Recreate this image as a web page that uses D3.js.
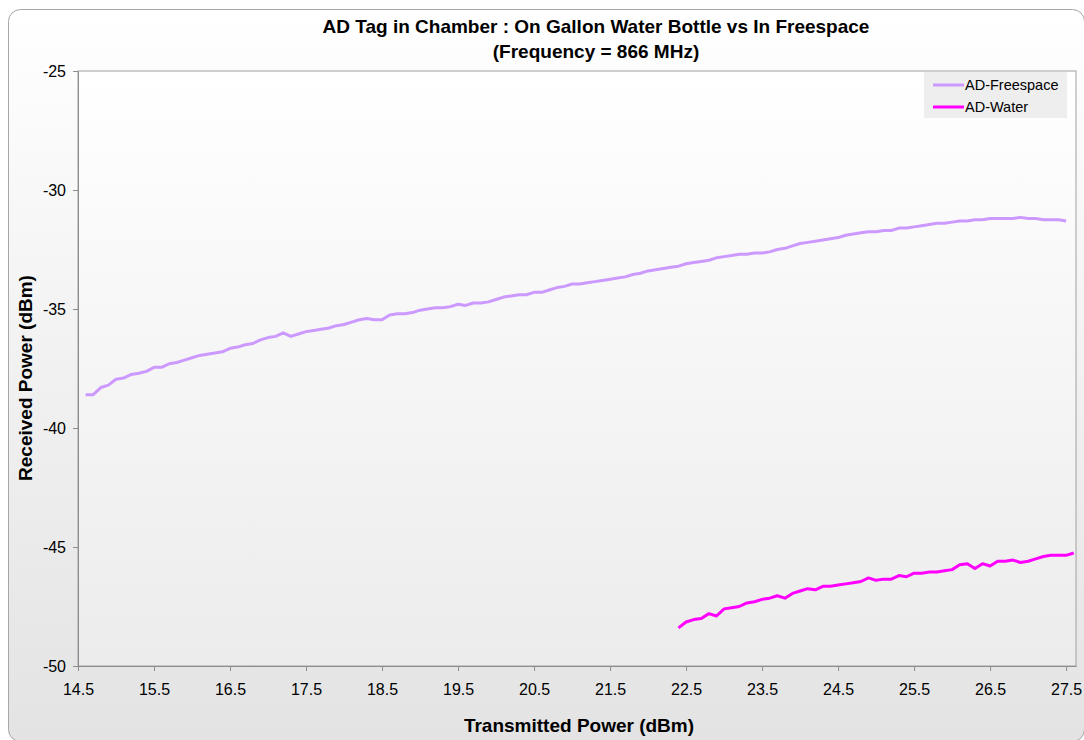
<!DOCTYPE html>
<html>
<head>
<meta charset="utf-8">
<script src="https://cdn.jsdelivr.net/npm/d3@7"></script>
<style>
  body { margin: 0; background: #fff; }
  svg { font-family: "Liberation Sans", Arial, sans-serif; }
</style>
</head>
<body>
<div id="chart"></div>
<script>
// Transmitted power (dBm) and received power (dBm) for each tag setup
const txFreespace = [14.6, 14.7, 14.8, 14.9, 15.0, 15.1, 15.2, 15.3, 15.4, 15.5,
    15.6, 15.7, 15.8, 15.9, 16.0, 16.1, 16.2, 16.3, 16.4, 16.5,
    16.6, 16.7, 16.8, 16.9, 17.0, 17.1, 17.2, 17.3, 17.4, 17.5,
    17.6, 17.7, 17.8, 17.9, 18.0, 18.1, 18.2, 18.3, 18.4, 18.5,
    18.6, 18.7, 18.8, 18.9, 19.0, 19.1, 19.2, 19.3, 19.4, 19.5,
    19.6, 19.7, 19.8, 19.9, 20.0, 20.1, 20.2, 20.3, 20.4, 20.5,
    20.6, 20.7, 20.8, 20.9, 21.0, 21.1, 21.2, 21.3, 21.4, 21.5,
    21.6, 21.7, 21.8, 21.9, 22.0, 22.1, 22.2, 22.3, 22.4, 22.5,
    22.6, 22.7, 22.8, 22.9, 23.0, 23.1, 23.2, 23.3, 23.4, 23.5,
    23.6, 23.7, 23.8, 23.9, 24.0, 24.1, 24.2, 24.3, 24.4, 24.5,
    24.6, 24.7, 24.8, 24.9, 25.0, 25.1, 25.2, 25.3, 25.4, 25.5,
    25.6, 25.7, 25.8, 25.9, 26.0, 26.1, 26.2, 26.3, 26.4, 26.5,
    26.6, 26.7, 26.8, 26.9, 27.0, 27.1, 27.2, 27.3, 27.4, 27.5];
const rxFreespace = [-38.6, -38.6, -38.3, -38.2, -37.95, -37.9, -37.75, -37.7, -37.62, -37.45,
    -37.45, -37.3, -37.25, -37.15, -37.05, -36.95, -36.9, -36.85, -36.8, -36.65,
    -36.6, -36.5, -36.45, -36.3, -36.2, -36.15, -36.0, -36.15, -36.05, -35.95,
    -35.9, -35.85, -35.8, -35.7, -35.65, -35.55, -35.45, -35.4, -35.45, -35.45,
    -35.25, -35.2, -35.2, -35.15, -35.05, -35.0, -34.95, -34.95, -34.9, -34.8,
    -34.85, -34.75, -34.75, -34.7, -34.6, -34.5, -34.45, -34.4, -34.4, -34.3,
    -34.3, -34.2, -34.1, -34.05, -33.95, -33.95, -33.9, -33.85, -33.8, -33.75,
    -33.7, -33.65, -33.55, -33.5, -33.4, -33.35, -33.3, -33.25, -33.2, -33.1,
    -33.05, -33.0, -32.95, -32.85, -32.8, -32.75, -32.7, -32.7, -32.65, -32.65,
    -32.6, -32.5, -32.45, -32.35, -32.25, -32.2, -32.15, -32.1, -32.05, -32.0,
    -31.9, -31.85, -31.8, -31.75, -31.75, -31.7, -31.7, -31.6, -31.6, -31.55,
    -31.5, -31.45, -31.4, -31.4, -31.35, -31.3, -31.3, -31.25, -31.25, -31.2,
    -31.2, -31.2, -31.2, -31.15, -31.2, -31.2, -31.25, -31.25, -31.25, -31.3];

const txWater = [22.4, 22.5, 22.6, 22.7, 22.8, 22.9, 23.0, 23.1, 23.2, 23.3,
    23.4, 23.5, 23.6, 23.7, 23.8, 23.9, 24.0, 24.1, 24.2, 24.3,
    24.4, 24.5, 24.6, 24.7, 24.8, 24.9, 25.0, 25.1, 25.2, 25.3,
    25.4, 25.5, 25.6, 25.7, 25.8, 25.9, 26.0, 26.1, 26.2, 26.3,
    26.4, 26.5, 26.6, 26.7, 26.8, 26.9, 27.0, 27.1, 27.2, 27.3,
    27.4, 27.5, 27.6];
const rxWater = [-48.4, -48.15, -48.05, -48.0, -47.8, -47.9, -47.6, -47.55, -47.5, -47.35,
    -47.3, -47.2, -47.15, -47.05, -47.15, -46.95, -46.85, -46.75, -46.8, -46.65,
    -46.65, -46.6, -46.55, -46.5, -46.45, -46.3, -46.4, -46.35, -46.35, -46.2,
    -46.25, -46.1, -46.1, -46.05, -46.05, -46.0, -45.95, -45.75, -45.7, -45.9,
    -45.7, -45.8, -45.6, -45.6, -45.55, -45.65, -45.6, -45.5, -45.4, -45.35,
    -45.35, -45.35, -45.25];

const xTicks = [14.5, 15.5, 16.5, 17.5, 18.5, 19.5, 20.5, 21.5, 22.5, 23.5, 24.5, 25.5, 26.5, 27.5];
const yTicks = [-25, -30, -35, -40, -45, -50];

const seriesNames = ["AD-Freespace", "AD-Water"];
const seriesColors = ["#cc99ff", "#ff00ff"];

const width = 1084, height = 740;
const margin = {top: 71, right: 8, bottom: 74, left: 78};

const svg = d3.select("#chart").append("svg")
    .attr("width", width)
    .attr("height", height);

const defs = svg.append("defs");
const outerGrad = defs.append("linearGradient")
    .attr("id", "outerGrad").attr("x1", 0).attr("y1", 0).attr("x2", 0).attr("y2", 1);
outerGrad.append("stop").attr("offset", "0%").attr("stop-color", "#ffffff");
outerGrad.append("stop").attr("offset", "100%").attr("stop-color", "#e3e3e3");
const plotGrad = defs.append("linearGradient")
    .attr("id", "plotGrad").attr("x1", 0).attr("y1", 0).attr("x2", 0).attr("y2", 1);
plotGrad.append("stop").attr("offset", "0%").attr("stop-color", "#ffffff");
plotGrad.append("stop").attr("offset", "100%").attr("stop-color", "#ececec");

// chart area frame
svg.append("rect")
    .attr("x", 8.5).attr("y", 9.5)
    .attr("width", width - 8).attr("height", height - 8)
    .attr("rx", 12)
    .attr("fill", "url(#outerGrad)")
    .attr("stroke", "#a6a6a6");

const x = d3.scaleLinear()
    .domain([14.5, 27.63])
    .range([margin.left, width - margin.right]);

const y = d3.scaleLinear()
    .domain([-50, -25])
    .range([666, margin.top]);

// plot area
svg.append("rect")
    .attr("x", x.range()[0]).attr("y", y(-25))
    .attr("width", x.range()[1] - x.range()[0])
    .attr("height", y(-50) - y(-25))
    .attr("fill", "url(#plotGrad)")
    .attr("stroke", "#a0a0a0");

const xAxis = svg.append("g")
    .attr("transform", `translate(0,${y(-50)})`)
    .call(d3.axisBottom(x).tickValues(xTicks).tickSize(5).tickSizeOuter(0).tickFormat(d3.format(".1f")));

const yAxis = svg.append("g")
    .attr("transform", `translate(${x(14.5)},0)`)
    .call(d3.axisLeft(y).tickValues(yTicks).tickSize(5).tickSizeOuter(0).tickFormat(d => d));

[xAxis, yAxis].forEach(function(ax) {
    ax.select(".domain").attr("stroke", "#8c8c8c");
    ax.selectAll(".tick line").attr("stroke", "#8c8c8c");
    ax.selectAll(".tick text")
        .attr("fill", "#000")
        .style("font-size", "16px")
        .style("font-family", "'Liberation Sans', Arial, sans-serif");
});
xAxis.selectAll(".tick text").attr("dy", "0").attr("y", 29);
yAxis.selectAll(".tick text").attr("x", -12);

const line = d3.line()
    .x(d => x(d[0]))
    .y(d => y(d[1]));

const series = [
    d3.zip(txFreespace, rxFreespace),
    d3.zip(txWater, rxWater)
];

svg.selectAll("path.series")
    .data(series)
    .join("path")
    .attr("class", "series")
    .attr("d", line)
    .attr("fill", "none")
    .attr("stroke", (d, i) => seriesColors[i])
    .attr("stroke-width", 3)
    .attr("stroke-linejoin", "round");

// Title
svg.append("text")
    .attr("x", 596).attr("y", 33)
    .attr("text-anchor", "middle")
    .style("font-size", "19px").style("font-weight", "bold")
    .text("AD Tag in Chamber : On Gallon Water Bottle vs In Freespace");
svg.append("text")
    .attr("x", 596).attr("y", 58)
    .attr("text-anchor", "middle")
    .style("font-size", "19px").style("font-weight", "bold")
    .text("(Frequency = 866 MHz)");

// Axis titles
svg.append("text")
    .attr("transform", "translate(32,378) rotate(-90)")
    .attr("text-anchor", "middle")
    .style("font-size", "19px").style("font-weight", "bold")
    .text("Received Power (dBm)");
svg.append("text")
    .attr("x", 579).attr("y", 732)
    .attr("text-anchor", "middle")
    .style("font-size", "19px").style("font-weight", "bold")
    .text("Transmitted Power (dBm)");

// Legend
const legend = svg.append("g").attr("transform", "translate(924,72)");
legend.append("rect")
    .attr("width", 143).attr("height", 46)
    .attr("fill", "#eeeeee");
const item = legend.selectAll("g.item")
    .data(seriesNames)
    .join("g")
    .attr("class", "item")
    .attr("transform", (d, i) => `translate(0,${13 + i * 22})`);
item.append("line")
    .attr("x1", 9).attr("x2", 40)
    .attr("stroke", (d, i) => seriesColors[i])
    .attr("stroke-width", 3);
item.append("text")
    .attr("x", 41).attr("y", 5)
    .style("font-size", "14.5px")
    .text(d => d);
</script>
</body>
</html>
